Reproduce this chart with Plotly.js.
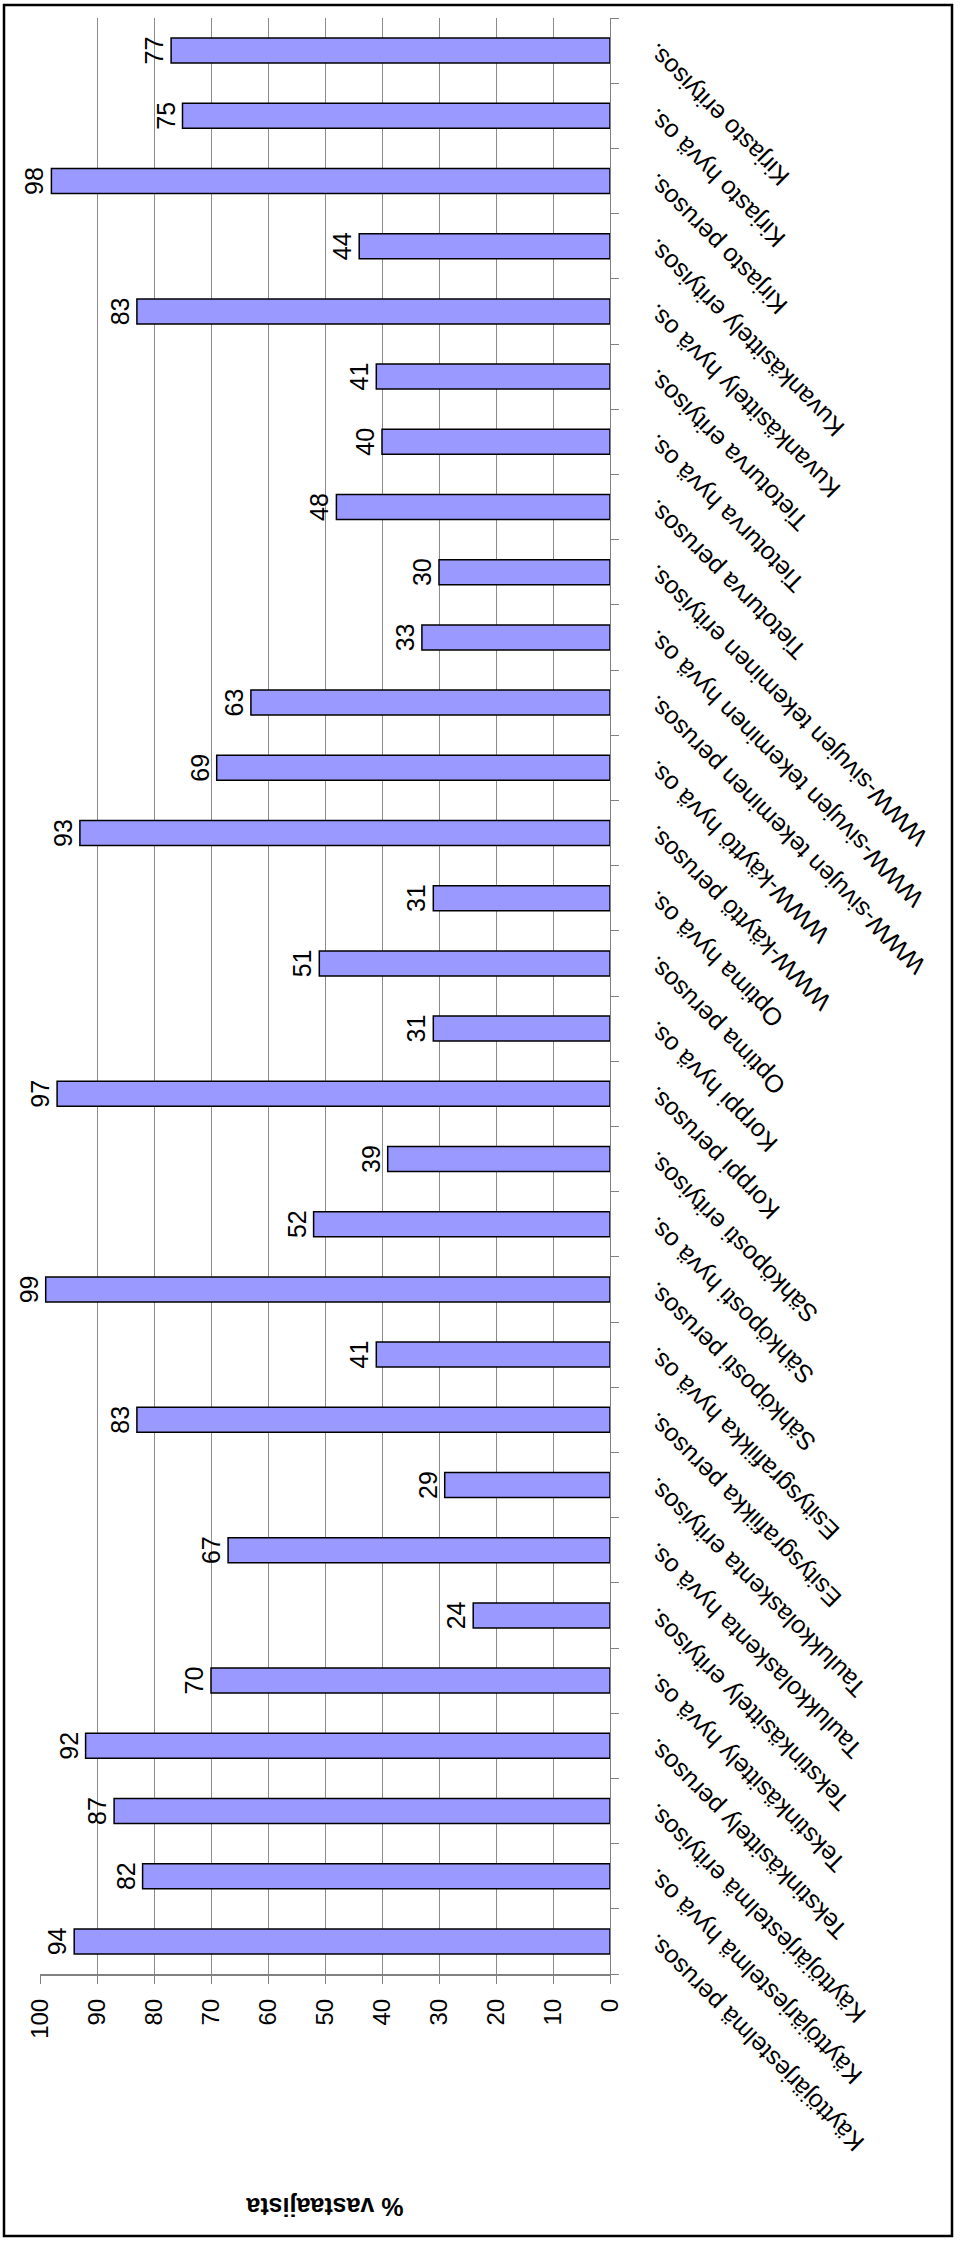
<!DOCTYPE html>
<html><head><meta charset="utf-8">
<script src="https://cdn.plot.ly/plotly-3.0.1.min.js"></script>
<style>
html,body{margin:0;padding:0;background:#fff;overflow:hidden;width:960px;height:2244px;}
#chart{position:absolute;left:0;top:0;width:2244px;height:960px;transform-origin:0 0;}
</style></head><body>
<div id="chart"></div>
<script>
// Categories from the first (bottom) to the last (top) bar
const categories = [
  "Käyttöjärjestelmä perusos.", "Käyttöjärjestelmä hyvä os.", "Käyttöjärjestelmä erityisos.",
  "Tekstinkäsittely perusos.", "Tekstinkäsittely hyvä os.", "Tekstinkäsittely erityisos.",
  "Taulukkolaskenta hyvä os.", "Taulukkolaskenta erityisos.",
  "Esitysgrafiikka perusos.", "Esitysgrafiikka hyvä os.",
  "Sähköposti perusos.", "Sähköposti hyvä os.", "Sähköposti erityisos.",
  "Korppi perusos.", "Korppi hyvä os.",
  "Optima perusos.", "Optima hyvä os.",
  "WWW-käyttö perusos.", "WWW-käyttö hyvä os.",
  "WWW-sivujen tekeminen perusos.", "WWW-sivujen tekeminen hyvä os.", "WWW-sivujen tekeminen erityisos.",
  "Tietoturva perusos.", "Tietoturva hyvä os.", "Tietoturva erityisos.",
  "Kuvankäsittely hyvä os.", "Kuvankäsittely erityisos.",
  "Kirjasto perusos.", "Kirjasto hyvä os.", "Kirjasto erityisos."
];
const values = [94, 82, 87, 92, 70, 24, 67, 29, 83, 41, 99, 52, 39, 97, 31, 51, 31, 93, 69, 63, 33, 30, 48, 40, 41, 83, 44, 98, 75, 77];
const valueTicks = [0, 10, 20, 30, 40, 50, 60, 70, 80, 90, 100];
const valueTickLabels = ["0", "10", "20", "30", "40", "50", "60", "70", "80", "90", "100"];
const valueAxisTitle = "% vastaajista";

// Figure is drawn as a column chart, then the whole page is turned a quarter turn
const W = 2244, H = 960;
const M = {l: 270, r: 18, t: 40, b: 350};
const plotW = W - M.l - M.r, plotH = H - M.t - M.b;
const frame = {left: 8, right: 2239, top: 4, bottom: 952};

const FONT = "Liberation Sans, Arial, Helvetica, sans-serif";

const trace = {
  type: "bar",
  x: categories,
  y: values,
  text: values.map(String),
  textposition: "outside",
  textangle: 0,
  constraintext: "none",
  cliponaxis: false,
  textfont: {family: FONT, size: 25, color: "#000"},
  marker: {color: "#9999FF", line: {color: "#000000", width: 1.5}},
  hoverinfo: "none"
};

const layout = {
  width: W, height: H,
  margin: M,
  bargap: 0.617,
  paper_bgcolor: "#ffffff",
  plot_bgcolor: "#ffffff",
  showlegend: false,
  font: {family: FONT, size: 25, color: "#000"},
  xaxis: {
    type: "category",
    tickangle: -45,
    ticks: "outside", tickson: "boundaries", ticklen: 8, tickcolor: "#808080", tickwidth: 1,
    ticklabelstandoff: 20,
    showline: true, linecolor: "#808080", linewidth: 1,
    showgrid: false, zeroline: false,
    tickfont: {family: FONT, size: 25, color: "#000"},
    automargin: false
  },
  yaxis: {
    range: [0, 100],
    tickvals: valueTicks, ticktext: valueTickLabels,
    ticks: "outside", ticklen: 8, tickcolor: "#808080", tickwidth: 1,
    showline: true, linecolor: "#808080", linewidth: 2,
    showgrid: true, gridcolor: "#8c8c8c", gridwidth: 1,
    zeroline: false,
    tickfont: {family: FONT, size: 24, color: "#000"},
    ticklabelstandoff: 10,
    title: {text: valueAxisTitle, font: {family: FONT, size: 25, color: "#000", weight: "bold"}, standoff: 151},
    automargin: false
  },
  shapes: [{
    type: "rect", xref: "paper", yref: "paper", layer: "above",
    x0: (frame.left - M.l) / plotW, x1: (frame.right - M.l) / plotW,
    y0: (H - M.b - frame.bottom) / plotH, y1: (H - M.b - frame.top) / plotH,
    line: {color: "#000", width: 2.5}, fillcolor: "rgba(0,0,0,0)"
  }]
};

Plotly.newPlot("chart", [trace], layout, {displayModeBar: false, staticPlot: true}).then(function () {
  document.getElementById("chart").style.transform = "translateY(" + W + "px) rotate(-90deg)";
});
</script>
</body></html>
